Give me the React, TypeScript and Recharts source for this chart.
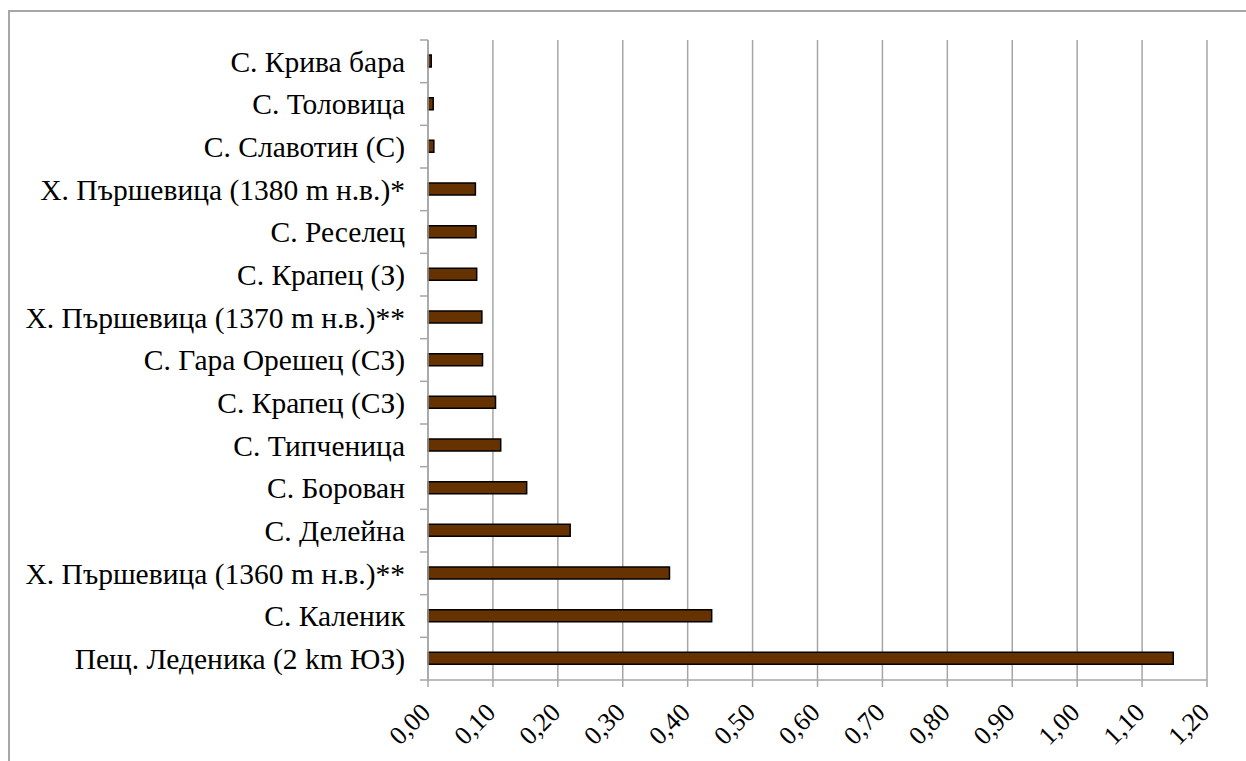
import React from "react";
import { BarChart, Bar, XAxis, YAxis, CartesianGrid } from "recharts";

const categories = [
  "С. Крива бара",
  "С. Толовица",
  "С. Славотин (С)",
  "Х. Пършевица (1380 m н.в.)*",
  "С. Реселец",
  "С. Крапец (З)",
  "Х. Пършевица (1370 m н.в.)**",
  "С. Гара Орешец (СЗ)",
  "С. Крапец (СЗ)",
  "С. Типченица",
  "С. Борован",
  "С. Делейна",
  "Х. Пършевица (1360 m н.в.)**",
  "С. Каленик",
  "Пещ. Леденика (2 km ЮЗ)",
];

const values = [
  0.005, 0.008, 0.009, 0.073, 0.074, 0.075, 0.083, 0.084, 0.104, 0.112,
  0.152, 0.219, 0.372, 0.437, 1.148,
];

const xTicks = [0, 0.1, 0.2, 0.3, 0.4, 0.5, 0.6, 0.7, 0.8, 0.9, 1.0, 1.1, 1.2];

const data = categories.map((name, i) => ({ name, value: values[i] }));

const FONT = "'Liberation Serif', 'Times New Roman', serif";
const GRID = "#a6a6a6";
const BAND = 640 / categories.length;

const YTick = (props: any) => {
  const { x, y, payload, index } = props;
  const lx = x + 16;
  const isLast = index === categories.length - 1;
  return (
    <g>
      <line x1={lx} x2={lx + 8} y1={y - BAND / 2} y2={y - BAND / 2} stroke={GRID} strokeWidth={1.5} />
      {isLast && (
        <line x1={lx} x2={lx + 8} y1={y + BAND / 2} y2={y + BAND / 2} stroke={GRID} strokeWidth={1.5} />
      )}
      <text x={x + 1} y={y} dy="0.35em" textAnchor="end" fontFamily={FONT} fontSize={29.5} fill="#000">
        {payload.value}
      </text>
    </g>
  );
};

const XTick = (props: any) => {
  const { x, y, payload } = props;
  const px = x + 4;
  const py = y + 25;
  return (
    <text
      x={px}
      y={py}
      textAnchor="end"
      fontFamily={FONT}
      fontSize={26}
      fill="#000"
      transform={`rotate(-45, ${px}, ${py})`}
    >
      {payload.value.toFixed(2).replace(".", ",")}
    </text>
  );
};

export default function App() {
  return (
    <div style={{ position: "absolute", left: 0, top: 0, width: 1246, height: 761, background: "#fff", overflow: "hidden" }}>
      <div
        style={{
          position: "absolute",
          left: 8,
          top: 10,
          width: 1246,
          height: 761,
          borderLeft: `2px solid ${GRID}`,
          borderTop: `2px solid ${GRID}`,
        }}
      />
      <div style={{ position: "absolute", left: 0, top: 0 }}>
        <BarChart
          width={1246}
          height={761}
          data={data}
          layout="vertical"
          margin={{ top: 40, right: 39, left: 0, bottom: 0 }}
          barCategoryGap={0}
        >
          <CartesianGrid horizontal={false} stroke={GRID} strokeWidth={1.5} />
          <XAxis
            type="number"
            domain={[0, 1.2]}
            ticks={xTicks}
            interval={0}
            height={81}
            axisLine={{ stroke: GRID, strokeWidth: 1.5 }}
            tickLine={{ stroke: GRID, strokeWidth: 1.5 }}
            tickSize={7}
            tick={<XTick />}
          />
          <YAxis
            type="category"
            dataKey="name"
            width={428}
            interval={0}
            axisLine={{ stroke: GRID, strokeWidth: 1.5 }}
            tickLine={false}
            tickSize={8}
            tickMargin={16}
            tick={<YTick />}
          />
          <Bar
            dataKey="value"
            fill="#663300"
            stroke="#000"
            strokeWidth={1.5}
            barSize={12}
            isAnimationActive={false}
          />
        </BarChart>
      </div>
    </div>
  );
}
